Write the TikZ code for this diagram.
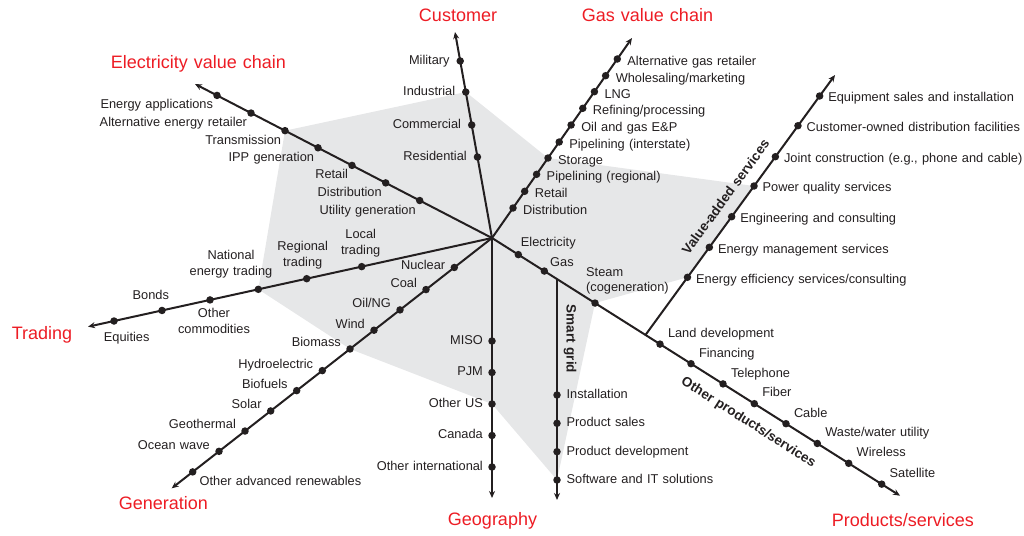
\documentclass[tikz,border=0pt]{standalone}
\usepackage{fontspec}
\setmainfont{Liberation Sans}[WordSpace=1.2]
\usetikzlibrary{arrows.meta,backgrounds}
\definecolor{myred}{RGB}{237,28,36}
\definecolor{myink}{RGB}{35,31,32}
\definecolor{mygray}{RGB}{230,231,232}

\begin{document}
\begin{tikzpicture}
	[x=1pt,y=-1pt,
	axis/.style={line width=2pt,draw=myink,-{Stealth[length=7pt,width=6pt]}},
	dot/.style={circle,fill=myink,inner sep=0pt,minimum size=7.5pt},
	lbl/.style={font=\fontsize{12.8}{15.5}\selectfont,text=myink,inner sep=1pt,text height=9.5pt,text depth=2.7pt},
	lbltwo/.style={font=\fontsize{12.8}{15.5}\selectfont,text=myink,inner sep=1pt},
	ttl/.style={font=\fontsize{18}{20}\selectfont,text=myred,inner sep=0pt,text height=13pt,text depth=3.8pt},
	bold/.style={font=\fontsize{13.5}{15}\selectfont\bfseries,text=myink,inner sep=0pt}]
	\useasboundingbox (0,0) rectangle (1024,535);
	
	\coordinate (c) at (492,238);
	\coordinate (cuTip) at (455,32);
	\coordinate (gaTip) at (632,38);
	\coordinate (elTip) at (195,84);
	\coordinate (trTip) at (88,326.7);
	\coordinate (geTip) at (171.7,488.3);
	\coordinate (ggTip) at (492,498);
	\coordinate (prTip) at (900,495.7);
	\coordinate (sgStart) at (557,279.2);
	\coordinate (sgTip) at (557,500);
	\coordinate (vaStart) at (645.5,334.9);
	\coordinate (vaTip) at (835,75);
	
	\foreach \a/\b in {c/cuTip,c/gaTip,c/elTip,c/trTip,c/geTip,c/ggTip,c/prTip,sgStart/sgTip,vaStart/vaTip}
	\draw[axis] (\a) -- (\b);
	
	\foreach \y/\n/\t in {61/1/Military,92/2/Industrial,125/3/Commercial,157/4/Residential}
	\node[dot,label={[lbl,label distance=5.5pt]left:\t}] (cu\n) at ({492-37*(238-\y)/206},\y) {};
	
	\foreach \y/\n/\t in {59/1/Alternative gas retailer,75.7/2/{Wholesaling/marketing},91.7/3/LNG,108.3/4/{Refining/processing},125/5/Oil and gas E\&P,142/6/Pipelining (interstate),158/7/Storage,174.3/8/Pipelining (regional),191.3/9/Retail,208/10/Distribution}
	\node[dot,label={[lbl,label distance=5pt,yshift=-3pt]right:\t}] (ga\n) at ({492+0.7*(238-\y)},\y) {};
	
	\foreach \x/\n/\t in {217/1/Energy applications,251/2/Alternative energy retailer,285/3/Transmission,318/4/IPP generation,352/5/Retail,385.7/6/Distribution,419.7/7/Utility generation}
	\node[dot,label={[lbl]below left:\t}] (el\n) at (\x,{238-0.5185*(492-\x)}) {};
	
	\foreach \x/\n in {114/1,162/2,210/3,258.3/4,306.7/5,361.7/6}
	\node[dot] (tr\n) at (\x,{238+0.2196*(492-\x)}) {};
	\node[lbl] (trL1) at (126.7,338.3) {Equities};
	\node[lbl] (trL2) at (150.8,296) {Bonds};
	\node[lbltwo,align=center] (trL3) at (214,321) {Other\\commodities};
	\node[lbltwo,align=center] (trL4) at (231,264.3) {National\\energy trading};
	\node[lbltwo,align=center] (trL5) at (302.7,255.3) {Regional\\trading};
	\node[lbltwo,align=center] (trL6) at (360.7,243.3) {Local\\trading};
	
	\node[dot,label={[lbl,label distance=4pt,yshift=1pt]left:Nuclear}] (ge1) at (454.3,{238+0.7815*(492-454.3)}) {};
	\foreach \x/\n/\t in {426/2/Coal,400/3/{Oil/NG},374/4/Wind,350/5/Biomass,322.3/6/Hydroelectric,296.7/7/Biofuels,270.7/8/Solar,245/9/Geothermal,219/10/Ocean wave}
	\node[dot,label={[lbl,label distance=4pt,yshift=5.5pt]left:\t}] (ge\n) at (\x,{238+0.7815*(492-\x)}) {};
	\node[dot,label={[lbl,xshift=3pt]below right:Other advanced renewables}] (ge11) at (192.7,{238+0.7815*(492-192.7)}) {};
	
	\foreach \y/\n/\t in {341/1/MISO,372.5/2/PJM,404/3/Other US,435.5/4/Canada,467/5/Other international}
	\node[dot,label={[lbl,label distance=4pt]left:\t}] (gg\n) at (492,\y) {};
	
	\foreach \x/\n in {518.3/1,544.3/2,595/3}
	\node[dot] (pr\n) at (\x,{238+0.6316*(\x-492)}) {};
	\node[lbl,anchor=west] (prL1) at (519.7,243.3) {Electricity};
	\node[lbl,anchor=west] (prL2) at (549,263.3) {Gas};
	\node[lbltwo,anchor=west,align=left] (prL3) at (585,280.7) {Steam\\(cogeneration)};
	\foreach \x/\n/\t in {660/4/Land development,691/5/Financing,723/6/Telephone,754.3/7/Fiber,786/8/Cable,817.3/9/{Waste/water utility},848.7/10/Wireless,881.7/11/Satellite}
	\node[dot,label={[lbl,xshift=4pt]above right:\t}] (pr\n) at (\x,{238+0.6316*(\x-492)}) {};
	
	\foreach \y/\n/\t in {395/1/Installation,423.3/2/Product sales,451.7/3/Product development,480/4/Software and IT solutions}
	\node[dot,label={[lbl,label distance=4.5pt]right:\t}] (sg\n) at (557,\y) {};
	
	\foreach \y/\n/\t in {96/1/Equipment sales and installation,125.7/2/Customer-owned distribution facilities,156.7/3/{Joint construction (e.g., phone and cable)},186/4/Power quality services,216.7/5/Engineering and consulting,247.3/6/Energy management services,277.3/7/{Energy efficiency services/consulting}}
	\node[dot,label={[lbl,label distance=3.5pt,yshift=-2.5pt]right:\t}] (va\n) at ({645.5+0.7288*(334.9-\y)},\y) {};
	
	\node[bold,rotate=53.8] (vaL) at (725.5,196.7) {Value-added services};
	\node[bold,rotate=-32.3] (prL) at (748.3,422.5) {Other products/services};
	\node[bold,rotate=-90] (sgL) at (570,339) {Smart grid};
	
	\node[ttl] (tCu) at (458,17) {Customer};
	\node[ttl] (tGa) at (647.5,17) {Gas value chain};
	\node[ttl] (tEl) at (198.3,64.3) {Electricity value chain};
	\node[ttl] (tTr) at (42,335) {Trading};
	\node[ttl] (tGe) at (163.3,505) {Generation};
	\node[ttl] (tGg) at (492.5,521) {Geography};
	\node[ttl] (tPr) at (902.8,521.7) {Products/services};
	
	\begin{scope}[on background layer]
	\fill[mygray] (cu2.center) -- (ga7.center) -- (va4.center) -- (va7.center) -- (pr3.center) -- (sg4.center) -- (gg3.center) -- (ge5.center) -- (tr4.center) -- (el3.center) -- cycle;
	\end{scope}
\end{tikzpicture}
\end{document}
